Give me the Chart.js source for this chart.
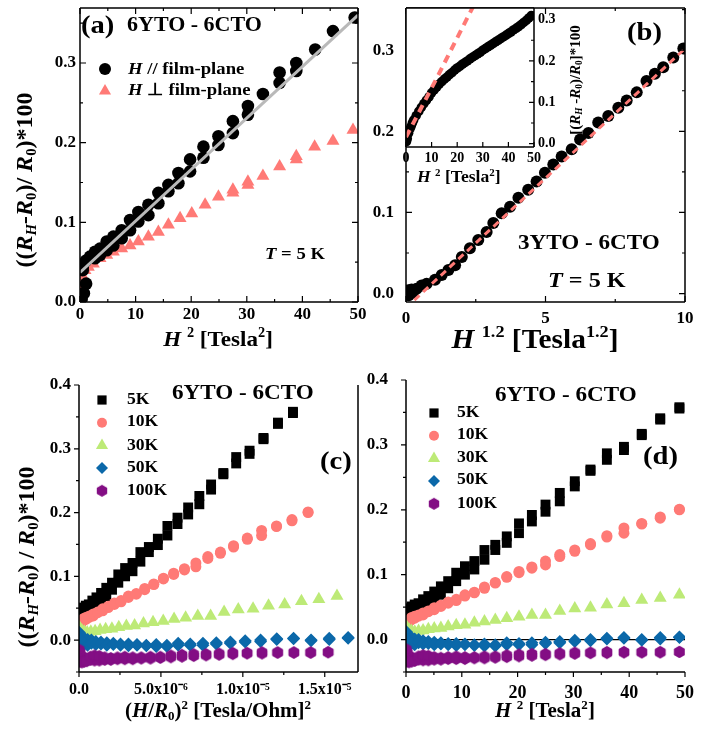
<!DOCTYPE html>
<html lang="en">
<head>
<meta charset="UTF-8">
<title>Magnetoresistance</title>
<script src="https://cdn.jsdelivr.net/npm/chart.js"></script>
<style>
body { margin: 0; background: #fff; }
#wrap { position: relative; width: 709px; height: 732px; overflow: hidden; font-family: 'Liberation Serif', 'Times New Roman', serif; font-weight: bold; color: #000; }
canvas { position: absolute; left: 0; top: 0; }
.t { position: absolute; white-space: nowrap; line-height: 1; transform-origin: 0 0; transform: scaleX(1.1); }
.c { position: absolute; white-space: nowrap; line-height: 1; transform: translate(-50%, 0) scaleX(1.05); }
.r { position: absolute; white-space: nowrap; line-height: 1; transform: translate(-50%, -50%) rotate(-90deg); }
sub, sup { font-size: 62%; line-height: 0; }
sub { vertical-align: -0.25em; }
sup { vertical-align: 0.65em; }
</style>
</head>
<body>
<div id="wrap">
  <canvas id="chA" width="709" height="732"></canvas>
  <canvas id="chB" width="709" height="732"></canvas>
  <canvas id="chIn" width="709" height="732"></canvas>
  <canvas id="chC" width="709" height="732"></canvas>
  <canvas id="chD" width="709" height="732"></canvas>

  <!-- panel (a) -->
  <div class="t" style="left:81px;top:12px;font-size:26px">(a)</div>
  <div class="t" style="left:127px;top:14px;font-size:20px">6YTO - 6CTO</div>
  <div class="t" style="left:128px;top:60px;font-size:17px"><i>H</i> // film-plane</div>
  <div class="t" style="left:128px;top:81px;font-size:17px"><i>H</i> ⊥ film-plane</div>
  <div class="t" style="left:265px;top:245px;font-size:17px"><i>T</i> = 5 K</div>
  <div class="c" style="left:218px;top:328px;font-size:22px"><i>H</i> <sup>2</sup> [Tesla<sup>2</sup>]</div>
  <div class="r" style="left:24px;top:180px;font-size:24px">((<i>R<sub>H</sub></i>-<i>R</i><sub>0</sub>)/ <i>R</i><sub>0</sub>)*100</div>

  <!-- panel (b) -->
  <div class="t" style="left:627px;top:19px;font-size:26px">(b)</div>
  <div class="t" style="left:518px;top:232px;font-size:21px">3YTO - 6CTO</div>
  <div class="t" style="left:548px;top:269px;font-size:22px"><i>T</i> = 5 K</div>
  <div class="c" style="left:535px;top:325px;font-size:28px"><i>H</i> <sup>1.2</sup> [Tesla<sup>1.2</sup>]</div>
  <div class="t" style="left:417px;top:169px;font-size:16px"><i>H</i> <sup>2</sup> [Tesla<sup>2</sup>]</div>
  <div class="r" style="left:575px;top:80px;font-size:15px">[(<i>R<sub>H</sub></i> -<i>R</i><sub>0</sub>)/<i>R</i><sub>0</sub>]*100</div>

  <!-- panel (c) -->
  <div class="t" style="left:172px;top:382px;font-size:21px">6YTO - 6CTO</div>
  <div class="t" style="left:320px;top:448px;font-size:26px">(c)</div>
  <div class="t" style="left:127px;top:391px;font-size:16px">5K</div>
  <div class="t" style="left:127px;top:413px;font-size:16px">10K</div>
  <div class="t" style="left:127px;top:437px;font-size:16px">30K</div>
  <div class="t" style="left:127px;top:459px;font-size:16px">50K</div>
  <div class="t" style="left:127px;top:482px;font-size:16px">100K</div>
  <div class="r" style="left:26px;top:557px;font-size:24px">((<i>R<sub>H</sub></i>-<i>R</i><sub>0</sub>) / <i>R</i><sub>0</sub>)*100</div>
  <div class="c" style="left:218px;top:700px;font-size:20px">(<i>H</i>/<i>R</i><sub>0</sub>)<sup>2</sup> [Tesla/Ohm]<sup>2</sup></div>

  <!-- panel (d) -->
  <div class="t" style="left:495px;top:384px;font-size:21px">6YTO - 6CTO</div>
  <div class="t" style="left:643px;top:443px;font-size:26px">(d)</div>
  <div class="t" style="left:457px;top:404px;font-size:16px">5K</div>
  <div class="t" style="left:457px;top:426px;font-size:16px">10K</div>
  <div class="t" style="left:457px;top:449px;font-size:16px">30K</div>
  <div class="t" style="left:457px;top:471px;font-size:16px">50K</div>
  <div class="t" style="left:457px;top:495px;font-size:16px">100K</div>
  <div class="c" style="left:545px;top:700px;font-size:20px"><i>H</i> <sup>2</sup> [Tesla<sup>2</sup>]</div>
</div>
<script>
// ---- panel (a): 6YTO-6CTO at 5 K, field parallel / perpendicular to the film
const aParH2 = [0.3, 0.5, 0.5, 0.7, 1.1, 0.6, 1.1, 1.8, 2.7, 2.7, 3.6, 3.6, 4.8, 4.8, 6, 6, 7.5, 7.5, 9, 9,
    10.5, 10.5, 12.3, 12.3, 14.1, 14.1, 15.9, 15.9, 17.7, 17.7, 19.8, 19.8, 22.2, 22.2, 24.9, 24.9,
    27.5, 27.5, 30.2, 30.2, 32.9, 35.9, 35.9, 38.9, 38.9, 42.3, 45.5, 49.4];
const aParMR = [0.004, 0.044, 0.040, 0.011, 0.023, 0.048, 0.052, 0.057, 0.063, 0.055, 0.067, 0.059, 0.076, 0.065, 0.082, 0.071, 0.090, 0.080, 0.103, 0.090,
    0.113, 0.101, 0.122, 0.109, 0.137, 0.124, 0.147, 0.139, 0.162, 0.149, 0.179, 0.164, 0.195, 0.181, 0.208, 0.197,
    0.227, 0.212, 0.246, 0.235, 0.261, 0.288, 0.275, 0.300, 0.290, 0.317, 0.340, 0.357];
const aPerpH2 = [0.1, 0.2, 0.5, 0.9, 1.5, 2.4, 3.6, 4.8, 6, 7.5, 9, 10.5, 12.3, 14.1, 15.9, 18, 20.1, 22.5, 24.9,
    27.5, 27.5, 30.2, 30.2, 32.9, 35.9, 38.9, 38.9, 42.2, 45.5, 49.1];
const aPerpMR = [0.006, 0.019, 0.032, 0.040, 0.044, 0.048, 0.055, 0.059, 0.063, 0.067, 0.071, 0.076, 0.082, 0.088, 0.097, 0.105, 0.111, 0.122, 0.132,
    0.141, 0.137, 0.151, 0.147, 0.158, 0.170, 0.183, 0.179, 0.195, 0.202, 0.216];
const aFitH2 = [0, 50];
const aFitMR = [0.037, 0.360];

// ---- panel (b): 3YTO-6CTO at 5 K against H^1.2
const bH12 = [0.1, 0.25, 0.08, 0.2, 0.38, 0.56, 0.74, 1.04, 1.28, 1.52, 1.76, 2.0, 2.29, 2.59, 2.89, 3.13, 3.43, 3.73, 4.03, 4.38,
    4.68, 4.98, 5.28, 5.58, 5.94, 6.24, 6.54, 6.89, 7.25, 7.61, 7.91, 8.27, 8.62, 8.92, 9.22, 9.58, 9.94];
const bMR = [-0.002, 0.001, 0.004, 0.005, 0.006, 0.010, 0.012, 0.017, 0.023, 0.029, 0.035, 0.045, 0.056, 0.066, 0.076, 0.087, 0.099, 0.107, 0.118, 0.128,
    0.138, 0.149, 0.159, 0.169, 0.178, 0.190, 0.198, 0.211, 0.219, 0.229, 0.238, 0.248, 0.262, 0.271, 0.279, 0.291, 0.302];
const bFitH12 = [0.3, 10];
const bFitMR = [-0.008, 0.302];

// inset of (b): same sample against H^2
const inH2 = [0.2, 0.5, 1, 1.5, 2, 2.5, 3, 4, 5, 6, 7, 8, 9, 10, 11, 12, 13, 14, 15, 16, 17, 18, 19, 20,
    21, 22, 23, 24, 25, 26, 27, 28, 29, 30, 31, 32, 33, 34, 35, 36, 37, 38, 39, 40, 41, 42, 43, 44, 45, 46, 47, 48, 49];
const inMR = [0.005, 0.012, 0.025, 0.035, 0.042, 0.050, 0.057, 0.068, 0.078, 0.088, 0.097, 0.105, 0.113, 0.123, 0.130, 0.137, 0.144, 0.150, 0.156, 0.161, 0.167, 0.172, 0.178, 0.183,
    0.187, 0.192, 0.196, 0.200, 0.205, 0.209, 0.213, 0.217, 0.221, 0.226, 0.230, 0.234, 0.238, 0.242, 0.246, 0.250, 0.254, 0.258, 0.262, 0.266, 0.270, 0.275, 0.279, 0.283, 0.288, 0.293, 0.298, 0.304, 0.310];
const inFitH2 = [0, 11.3, 26.5];
const inFitMR = [0.016, 0.150, 0.335];

// ---- panels (c) and (d): 6YTO-6CTO at several temperatures
const temps = ['5K', '10K', '30K', '50K', '100K'];
const H2 = [0.06, 0.25, 0.56, 1, 1.56, 2.25, 3.06, 4, 5.06, 6.25, 7.56, 9, 10.56, 12.25, 14.06,
    16, 18.06, 20.25, 22.56, 25, 27.56, 30.25, 33.06, 36, 39.06, 42.25, 45.56, 49];
const mr5K = [0.033, 0.041, 0.046, 0.049, 0.051, 0.056, 0.062, 0.067, 0.074, 0.082, 0.090, 0.103, 0.113, 0.121, 0.138,
    0.146, 0.159, 0.179, 0.192, 0.208, 0.226, 0.244, 0.262, 0.287, 0.297, 0.317, 0.341, 0.358];
const mr5Kb = [0.040, 0.045, 0.048, 0.051, 0.054, 0.049, 0.051, 0.056, 0.062, 0.069, 0.079, 0.090, 0.100, 0.108, 0.123,
    0.138, 0.149, 0.164, 0.182, 0.197, 0.213, 0.236, 0.260, 0.277, 0.292, 0.315, 0.339, 0.356];
const mr10K = [0.020, 0.023, 0.028, 0.031, 0.033, 0.036, 0.038, 0.044, 0.049, 0.051, 0.056, 0.062, 0.069, 0.073, 0.079,
    0.087, 0.097, 0.105, 0.110, 0.121, 0.128, 0.136, 0.148, 0.160, 0.172, 0.179, 0.189, 0.201];
const mr10Kb = [0.024, 0.027, 0.030, 0.034, 0.036, 0.038, 0.041, 0.043, 0.046, 0.053, 0.058, 0.060, 0.067, 0.072, 0.081,
    0.088, 0.096, 0.103, 0.112, 0.115, 0.131, 0.138, 0.146, 0.158, 0.164, 0.178, 0.187, 0.200];
const mr30K = [0.020, 0.017, 0.015, 0.013, 0.012, 0.013, 0.014, 0.016, 0.017, 0.018, 0.020, 0.022, 0.023, 0.026, 0.028,
    0.030, 0.033, 0.035, 0.038, 0.038, 0.044, 0.048, 0.049, 0.054, 0.056, 0.061, 0.064, 0.069];
const mr50K = [0.012, 0.008, 0.005, 0.003, 0.001, 0.000, -0.002, -0.003, -0.004, -0.005, -0.006, -0.006, -0.007, -0.008, -0.010,
    -0.010, -0.008, -0.008, -0.008, -0.006, -0.005, -0.003, -0.002, 0.001, 0.003, -0.001, 0.003, 0.004];
const mr50Kb = [0.004, 0.000, -0.004, -0.006, -0.008, -0.005, -0.007, -0.006, -0.008, -0.007, -0.008, -0.009, -0.008, -0.009, -0.007,
    -0.008, -0.005, -0.006, -0.005, -0.004, -0.003, -0.001, 0.000, 0.002, 0.002, 0.000, 0.001, 0.003];
const mr100K = [-0.015, -0.020, -0.025, -0.028, -0.030, -0.031, -0.032, -0.032, -0.031, -0.031, -0.030, -0.030, -0.030, -0.029, -0.029,
    -0.028, -0.027, -0.026, -0.025, -0.024, -0.023, -0.022, -0.021, -0.021, -0.020, -0.020, -0.020, -0.019];
const mr100Kb = [-0.030, -0.034, -0.035, -0.034, -0.033, -0.026, -0.024, -0.025, -0.027, -0.028, -0.027, -0.026, -0.027, -0.027, -0.026,
    -0.026, -0.024, -0.023, -0.022, -0.022, -0.021, -0.020, -0.020, -0.019, -0.019, -0.019, -0.019, -0.019];
const R0 = [1937, 1872, 1764, 1727, 1795]; // ohm, zero-field resistance per temperature
const cTickVals = [0, 5e-6, 1e-5, 1.5e-5];
const cTickLabels = ['0.0', '5.0x10⁻⁶', '1.0x10⁻⁵', '1.5x10⁻⁵'];

const SALMON = '#FF7A76';
const colors = ['#000000', SALMON, '#BDEA77', '#0B68A9', '#830E84'];
const FONT = "'Liberation Serif', 'Times New Roman', serif";

function hexagon(r, color) {
    const c = document.createElement('canvas');
    c.width = c.height = 2 * r + 2;
    const g = c.getContext('2d');
    g.fillStyle = color;
    g.beginPath();
    for (let i = 0; i < 6; i++) {
        const a = Math.PI / 3 * i + Math.PI / 6;
        const x = r + 1 + r * Math.cos(a), y = r + 1 + r * Math.sin(a);
        i ? g.lineTo(x, y) : g.moveTo(x, y);
    }
    g.closePath();
    g.fill();
    return c;
}
const styles = ['rect', 'circle', 'triangle', 'rectRot', hexagon(6, colors[4])];
const radii = [7, 5.5, 7.5, 6.5, 6];

const pts = (xs, ys) => xs.map((x, i) => ({ x: x, y: ys[i] }));

function drawMarker(ctx, style, x, y, r, color) {
    ctx.save();
    ctx.fillStyle = color;
    ctx.beginPath();
    if (style instanceof HTMLCanvasElement) {
        ctx.drawImage(style, x - style.width / 2, y - style.height / 2);
    } else if (style === 'circle') {
        ctx.arc(x, y, r, 0, Math.PI * 2);
    } else if (style === 'rect') {
        const s = r * Math.SQRT1_2;
        ctx.rect(x - s, y - s, 2 * s, 2 * s);
    } else if (style === 'rectRot') {
        ctx.moveTo(x, y - r); ctx.lineTo(x + r, y); ctx.lineTo(x, y + r); ctx.lineTo(x - r, y);
    } else if (style === 'triangle') {
        ctx.moveTo(x, y - r);
        ctx.lineTo(x + r * Math.sin(Math.PI / 3), y + r / 2);
        ctx.lineTo(x - r * Math.sin(Math.PI / 3), y + r / 2);
    }
    ctx.closePath();
    ctx.fill();
    ctx.restore();
}

// frame, tick marks and legend symbols
const framePlugin = {
    id: 'frame',
    beforeDraw(chart, args, o) {
        if (!o.white) return;
        const a = chart.chartArea, ctx = chart.ctx;
        ctx.save();
        ctx.fillStyle = '#fff';
        ctx.fillRect(a.left, a.top, a.right - a.left, a.bottom - a.top);
        ctx.restore();
    },
    afterDraw(chart, args, o) {
        const a = chart.chartArea, ctx = chart.ctx;
        ctx.save();
        ctx.strokeStyle = '#000';
        ctx.lineWidth = 1.5;
        ctx.beginPath();
        (o.lines || []).forEach(side => {
            if (side === 'left') { ctx.moveTo(a.left, a.top); ctx.lineTo(a.left, a.bottom); }
            if (side === 'right') { ctx.moveTo(a.right, a.top); ctx.lineTo(a.right, a.bottom); }
            if (side === 'top') { ctx.moveTo(a.left, a.top); ctx.lineTo(a.right, a.top); }
            if (side === 'bottom') { ctx.moveTo(a.left, a.bottom); ctx.lineTo(a.right, a.bottom); }
        });
        ctx.stroke();
        const dir = o.inward ? -1 : 1;
        ctx.lineWidth = 1.2;
        ctx.beginPath();
        (o.ticks || []).forEach(side => {
            const sc = (side === 'left' || side === 'right') ? chart.scales.y : chart.scales.x;
            sc.ticks.forEach(t => {
                const p = sc.getPixelForValue(t.value);
                const len = (t.label !== '' ? o.major : o.minor) * dir;
                if (side === 'bottom') { ctx.moveTo(p, a.bottom); ctx.lineTo(p, a.bottom + len); }
                if (side === 'top') { ctx.moveTo(p, a.top); ctx.lineTo(p, a.top - len); }
                if (side === 'left') { ctx.moveTo(a.left, p); ctx.lineTo(a.left - len, p); }
                if (side === 'right') { ctx.moveTo(a.right, p); ctx.lineTo(a.right + len, p); }
            });
        });
        ctx.stroke();
        ctx.restore();
        (o.legend || []).forEach(it => drawMarker(ctx, it.style, it.x, it.y, it.r, it.color));
    }
};
Chart.register(framePlugin);

function labeler(major, fmt) {
    return function (v) {
        const k = v / major;
        return Math.abs(k - Math.round(k)) < 1e-6 ? fmt(v) : '';
    };
}

function axis(o) {
    return {
        type: 'linear',
        position: o.pos,
        min: o.min,
        max: o.max,
        grid: {
            display: !!o.zero,
            drawOnChartArea: !!o.zero,
            drawTicks: false,
            lineWidth: 1.2,
            color: c => (c.tick && Math.abs(c.tick.value) < 1e-9) ? '#000' : 'rgba(0,0,0,0)'
        },
        border: { display: false },
        ticks: {
            stepSize: o.step,
            autoSkip: false,
            maxRotation: 0,
            includeBounds: false,
            padding: o.pad,
            color: '#000',
            font: { family: FONT, size: o.fs, weight: 'bold' },
            callback: o.cb
        },
        afterFit: s => {
            if (s.isHorizontal()) s.height = o.size; else s.width = o.size;
            s.paddingLeft = s.paddingRight = s.paddingTop = s.paddingBottom = 0;
        }
    };
}

function padFor(area, yPos) {
    const yW = 60, xH = 40;
    return {
        left: yPos === 'right' ? area.left : area.left - yW,
        right: yPos === 'right' ? 709 - area.right - yW : 709 - area.right,
        top: area.top,
        bottom: 732 - area.bottom - xH
    };
}

function makeChart(id, area, yPos, datasets, xAx, yAx, frame) {
    xAx.size = 40; yAx.size = 60; xAx.pos = 'bottom'; yAx.pos = yPos;
    return new Chart(document.getElementById(id).getContext('2d'), {
        type: 'scatter',
        data: { datasets: datasets },
        options: {
            responsive: false,
            animation: false,
            events: [],
            layout: { padding: padFor(area, yPos) },
            plugins: { legend: { display: false }, tooltip: { enabled: false }, frame: frame },
            scales: { x: axis(xAx), y: axis(yAx) }
        }
    });
}

function scatterSet(data, style, r, color) {
    return { data: data, pointStyle: style, pointRadius: r, pointBackgroundColor: color, pointBorderWidth: 0, showLine: false, clip: 0 };
}
function lineSet(data, color, width, dash) {
    return { data: data, showLine: true, pointRadius: 0, borderColor: color, borderWidth: width, borderDash: dash || [], clip: 0 };
}

const f1 = v => v.toFixed(1);
const f0 = v => String(Math.round(v));

// (a)
makeChart('chA', { left: 80, top: 8, right: 358, bottom: 302 }, 'left', [
    lineSet(pts(aFitH2, aFitMR), '#B9B9B9', 3),
    scatterSet(pts(aParH2, aParMR), 'circle', 6.3, '#000'),
    scatterSet(pts(aPerpH2, aPerpMR), 'triangle', 7.5, SALMON)
], { min: 0, max: 50, step: 5, fs: 17, pad: 2, cb: labeler(10, f0) },
   { min: 0, max: 0.369, step: 0.05, fs: 17, pad: 4, cb: labeler(0.1, f1) },
   { lines: ['left', 'right', 'top', 'bottom'], ticks: ['left', 'right', 'top', 'bottom'], inward: true, major: 6, minor: 3,
     legend: [{ style: 'circle', x: 105, y: 69, r: 6, color: '#000' }, { style: 'triangle', x: 105, y: 91, r: 7, color: SALMON }] });

// (b)
makeChart('chB', { left: 406, top: 8, right: 685, bottom: 302 }, 'left', [
    lineSet(pts(bFitH12, bFitMR), SALMON, 3, [7, 5]),
    scatterSet(pts(bH12, bMR), 'circle', 6, '#000')
], { min: 0, max: 10, step: 2.5, fs: 17, pad: 6, cb: labeler(5, f0) },
   { min: -0.0104, max: 0.352, step: 0.05, fs: 17, pad: 12, cb: labeler(0.1, f1) },
   { lines: ['left', 'right', 'top', 'bottom'], ticks: ['left', 'right', 'top', 'bottom'], inward: true, major: 6, minor: 3 });

// inset of (b)
makeChart('chIn', { left: 406, top: 8, right: 534, bottom: 147 }, 'right', [
    lineSet(pts(inFitH2, inFitMR), SALMON, 4, [8, 6]),
    scatterSet(pts(inH2, inMR), 'circle', 4.8, '#000')
], { min: 0, max: 50, step: 10, fs: 14, pad: 3, cb: labeler(10, f0) },
   { min: -0.008, max: 0.328, step: 0.05, fs: 14, pad: 4, cb: labeler(0.1, f1) },
   { white: true, lines: ['left', 'right', 'top', 'bottom'], ticks: ['right', 'bottom'], inward: true, major: 5, minor: 3 });

// (c) and (d): one scatter set per temperature (two sweeps where they differ)
const sweeps = [[mr5K, mr5Kb], [mr10K, mr10Kb], [mr30K], [mr50K, mr50Kb], [mr100K, mr100Kb]];
function tempSets(xFor) {
    const sets = [];
    sweeps.forEach((list, i) => {
        list.forEach(ys => sets.push(scatterSet(pts(xFor(i), ys), styles[i], radii[i], colors[i])));
    });
    return sets.reverse();
}
function legendAt(x, y0, dy) {
    return temps.map((t, i) => ({ style: styles[i], x: x, y: y0 + i * dy, r: radii[i] - 0.5, color: colors[i] }));
}
const yCD = { min: -0.05, max: 0.4, step: 0.05, fs: 17, cb: labeler(0.1, f1) };

makeChart('chC', { left: 79, top: 385, right: 358, bottom: 672 }, 'left',
    tempSets(i => H2.map(h => h / (R0[i] * R0[i]))),
    { min: 0, max: 1.703e-5, step: 2.5e-6, fs: 16, pad: 8, cb: v => {
        const k = cTickVals.findIndex(c => Math.abs(c - v) < 1e-9);
        return k < 0 ? '' : cTickLabels[k];
    } },
    Object.assign({ pad: 8 }, yCD),
    { lines: ['left', 'bottom', 'right'], ticks: ['left', 'bottom'], inward: false, major: 5, minor: 3,
      legend: legendAt(102, 400, 22.7) });

makeChart('chD', { left: 406, top: 380, right: 685, bottom: 672 }, 'left',
    tempSets(() => H2),
    { min: 0, max: 50, step: 5, fs: 18, pad: 11, cb: labeler(10, f0) },
    Object.assign({ pad: 18, zero: true }, yCD),
    { lines: ['left', 'bottom'], ticks: ['left', 'bottom'], inward: false, major: 5, minor: 3,
      legend: legendAt(434, 413, 22.7) });
</script>
</body>
</html>
